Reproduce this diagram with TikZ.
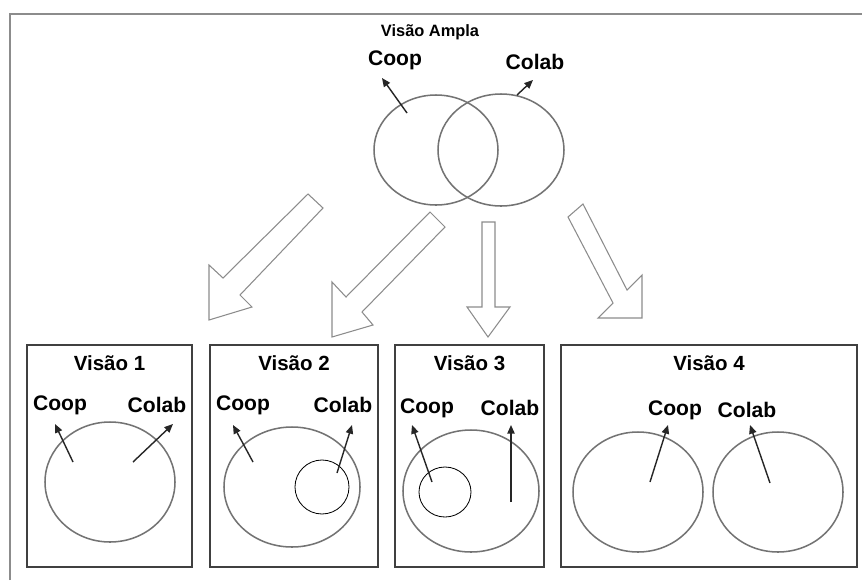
\documentclass[tikz,border=0pt]{standalone}
\usepackage{fontspec}
\setmainfont{Liberation Sans}
\usetikzlibrary{arrows.meta,positioning}
\tikzset{
  frameln/.style={black!45, line width=2pt},
  boxln/.style={black!75, line width=1.2pt},
  ringln/.style={black!55, line width=1.3pt},
  innerln/.style={black, line width=0.7pt},
  ptr/.style={-{Triangle[length=2.6mm,width=2.2mm]}, line width=1.2pt, black!85},
  hollow/.style={draw=black!45, line width=0.9pt, line join=miter},
  lab/.style={font=\bfseries\fontsize{18}{20}\selectfont, inner sep=0pt},
  ttl/.style={font=\bfseries\fontsize{17.5}{20}\selectfont, inner sep=0pt},
}
\newcommand{\ring}[3]{%
  \draw[ringln] #1 ellipse [x radius=#2, y radius=#3];
}

\begin{document}
\begin{tikzpicture}[x=0.03cm, y=-0.03cm]
    \useasboundingbox (0,0) rectangle (862,580);
    \fill[white] (0,0) rectangle (862,580);
    \draw[frameln] (10,580) -- (10,14) -- (862,14);

    % visao ampla
    \node[font=\bfseries\fontsize{14}{16}\selectfont, inner sep=0pt] (amp) at (430,32) {Visão Ampla};
    \node[lab] (coop0) at (395,60) {Coop};
    \node[lab] (colab0) at (535,62) {Colab};
    \ring{(436,150)}{62}{55}
    \ring{(501,150)}{63}{56}
    \coordinate (s0a) at (407,113);
    \coordinate (s0b) at (517,95);
    \draw[ptr] (s0a) -- (382,78);
    \draw[ptr] (s0b) -- (533,80);

    % setas largas
    \draw[hollow] (308,194) -- (223,278) -- (209,265) -- (209,320) -- (252,307)
      -- (240,295) -- (323,208) -- cycle;
    \draw[hollow] (430,212) -- (346,297) -- (332,282) -- (332,337) -- (373,325)
      -- (362,312) -- (445,227) -- cycle;
    \draw[hollow] (482,222) -- (482,307) -- (467,307) -- (488,337) -- (510,307)
      -- (495,307) -- (495,222) -- cycle;
    \draw[hollow] (568,217) -- (613,303) -- (598,318) -- (642,318) -- (642,275)
      -- (627,290) -- (583,204) -- cycle;

    % caixas
    \foreach \xa/\xb/\n in {27/192/1, 210/378/2, 395/544/3, 561/857/4} {
      \draw[boxln] (\xa,345) rectangle (\xb,567);
      \node[ttl] (t\n) at ({(\xa+\xb)/2},363) {Visão \n};
    }

    % visao 1
    \node[lab] (coop1) at (60,405) {Coop};
    \node[lab] (colab1) at (157,405) {Colab};
    \ring{(110,482)}{65}{60}
    \coordinate (s1a) at (73,462);
    \coordinate (s1b) at (133,462);
    \draw[ptr] (s1a) -- (55,424);
    \draw[ptr] (s1b) -- (173,424);

    % visao 2
    \node[lab] (coop2) at (243,405) {Coop};
    \node[lab] (colab2) at (343,405) {Colab};
    \ring{(292,487)}{68}{60}
    \draw[innerln] (322,487) circle (27);
    \coordinate (s2a) at (253,462);
    \coordinate (s2b) at (337,473);
    \draw[ptr] (s2a) -- (233,425);
    \draw[ptr] (s2b) -- (352,425);

    % visao 3
    \node[lab] (coop3) at (427,408) {Coop};
    \node[lab] (colab3) at (510,408) {Colab};
    \ring{(471,491)}{68}{61}
    \draw[innerln] (445,492) ellipse [x radius=26, y radius=25];
    \coordinate (s3a) at (432,482);
    \coordinate (s3b) at (511,502);
    \draw[ptr] (s3a) -- (412,425);
    \draw[ptr] (s3b) -- (511,425);

    % visao 4
    \node[lab] (coop4) at (675,410) {Coop};
    \node[lab] (colab4) at (747,410) {Colab};
    \ring{(638,492)}{65}{60}
    \ring{(778,492)}{65}{60}
    \coordinate (s4a) at (650,482);
    \coordinate (s4b) at (770,483);
    \draw[ptr] (s4a) -- (668,425);
    \draw[ptr] (s4b) -- (750,425);
\end{tikzpicture}
\end{document}
